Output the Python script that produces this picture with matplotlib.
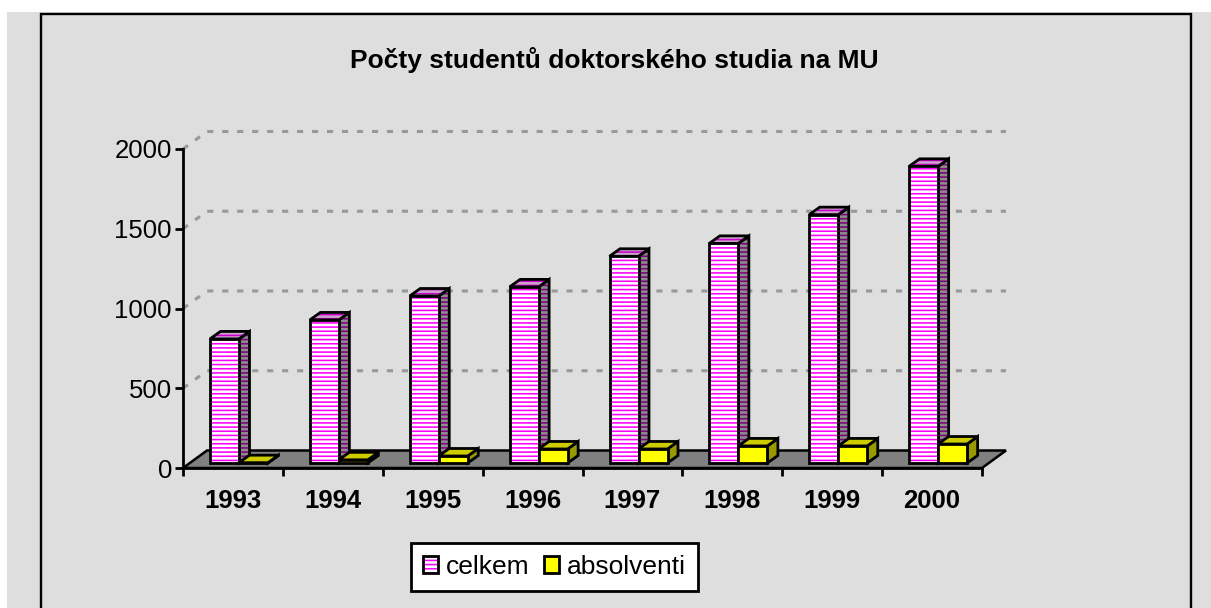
import matplotlib
matplotlib.use('Agg')
import matplotlib.pyplot as plt
from matplotlib.patches import Polygon, Rectangle, Patch
from matplotlib.legend_handler import HandlerTuple

plt.rcParams['font.family'] = ['Liberation Sans', 'DejaVu Sans']
plt.rcParams['hatch.linewidth'] = 1.15

years = ['1993', '1994', '1995', '1996', '1997', '1998', '1999', '2000']
celkem = [778, 897, 1047, 1104, 1296, 1377, 1557, 1860]
absolventi = [2, 20, 44, 88, 88, 107, 107, 119]
y_ticks = [0, 500, 1000, 1500, 2000]

W, H = 1211, 608
fig = plt.figure(figsize=(W / 100, H / 100), dpi=100, facecolor='white')

# pozadi a ramecek
fig.add_artist(Rectangle((7 / W, 0), (W - 7) / W, 1 - 12 / H, transform=fig.transFigure,
                         fc='#dedede', ec='none', zorder=-2))
fig.add_artist(Rectangle((41 / W, -0.02), 1150 / W, 1.02 - 14 / H, transform=fig.transFigure,
                         fc='none', ec='black', lw=1.7, zorder=-1))

# osa: 183..982 px, 0 je na 468 px a 2000 na 149 px
ax = fig.add_axes([183 / W, 1 - 468 / H, 799 / W, 319 / H])
ax.set_xlim(0, 8)
ax.set_ylim(0, 2000)
ax.patch.set_visible(False)
px = 8 / 799      # jeden pixel v jednotkach x
py = 2000 / 319   # jeden pixel v jednotkach y

for s in ['top', 'right']:
    ax.spines[s].set_visible(False)
for s in ['left', 'bottom']:
    ax.spines[s].set_linewidth(2)
    ax.spines[s].set_zorder(6)

ddx = 24 * px
ddy = 17.5 * py

# podlaha a mrizka
ax.add_patch(Polygon([(0, 0), (ddx, ddy), (8 + ddx, ddy), (8, 0)], closed=True,
                     fc='#808080', ec='black', lw=1.8, clip_on=False, zorder=1))
for v in y_ticks[1:]:
    ax.plot([0, ddx, 8 + ddx], [v, v + ddy, v + ddy], color='#999999', lw=2.2,
            dashes=(2.0, 2.9), clip_on=False, zorder=0.5)


def bar3d(x, w, v, front, side, top, hatched):
    # jeden kvadr: predni stena, bok, vrsek
    x0 = x + 7 * px
    y0 = 5 * py
    bx = 10.5 * px
    by = 7.5 * py
    y1 = y0 + v
    faces = [
        ([(x0 + w, y0), (x0 + w + bx, y0 + by), (x0 + w + bx, y1 + by), (x0 + w, y1)], side),
        ([(x0, y1), (x0 + bx, y1 + by), (x0 + w + bx, y1 + by), (x0 + w, y1)], top),
        ([(x0, y0), (x0 + w, y0), (x0 + w, y1), (x0, y1)], front),
    ]
    for pts, (fc, hc) in faces:
        if hatched:
            ax.add_patch(Polygon(pts, closed=True, fc=fc, ec=hc, hatch='----', lw=0,
                                 clip_on=False, zorder=3))
        else:
            ax.add_patch(Polygon(pts, closed=True, fc=fc, ec='none', clip_on=False, zorder=3))
        ax.add_patch(Polygon(pts, closed=True, fc='none', ec='black', lw=2,
                             joinstyle='miter', clip_on=False, zorder=3))


bw = 29 * px
for i in range(len(years)):
    x = i + 20 * px
    bar3d(x, bw, celkem[i], ('white', '#ff00ff'), ('#8c8c8c', '#800080'),
          ('#c9a6c9', '#cc00cc'), True)
    bar3d(x + bw, bw, absolventi[i], ('#ffff00', None), ('#999900', None),
          ('#cccc00', None), False)

# popisky os
ax.set_yticks(y_ticks)
ax.set_xticks(range(9))
ax.set_xticklabels([])
ax.set_xticks([i + 0.5 for i in range(8)], minor=True)
ax.set_xticklabels(years, minor=True, fontweight='bold', fontsize=18.5)
ax.tick_params(axis='y', length=6, width=2, labelsize=18.5, pad=2)
ax.tick_params(axis='x', which='major', length=6, width=2)
ax.tick_params(axis='x', which='minor', length=0, pad=15)

fig.text(614 / W, 1 - 60 / H, 'Počty studentů doktorského studia na MU',
         ha='center', va='center', fontsize=19, fontweight='bold')

# znacka celkem: srafy a cerny okraj pres sebe
h_celkem = (Patch(fc='white', ec='#ff00ff', hatch='----', lw=0),
            Patch(fc='none', ec='black', lw=2))
h_abs = Patch(fc='#ffff00', ec='black', lw=2)
leg = fig.legend([h_celkem, h_abs], ['celkem', 'absolventi'], loc='center',
                 bbox_to_anchor=(554.5 / W, 1 - 567 / H),
                 handler_map={tuple: HandlerTuple(ndivide=1, pad=0)},
                 ncol=2, fontsize=19, fancybox=False, framealpha=1, edgecolor='black',
                 handlelength=0.58, handleheight=0.62, handletextpad=0.3,
                 columnspacing=0.55, borderpad=0.45, borderaxespad=0)
leg.get_frame().set_linewidth(2)

fig.savefig('out.png', dpi=100)
